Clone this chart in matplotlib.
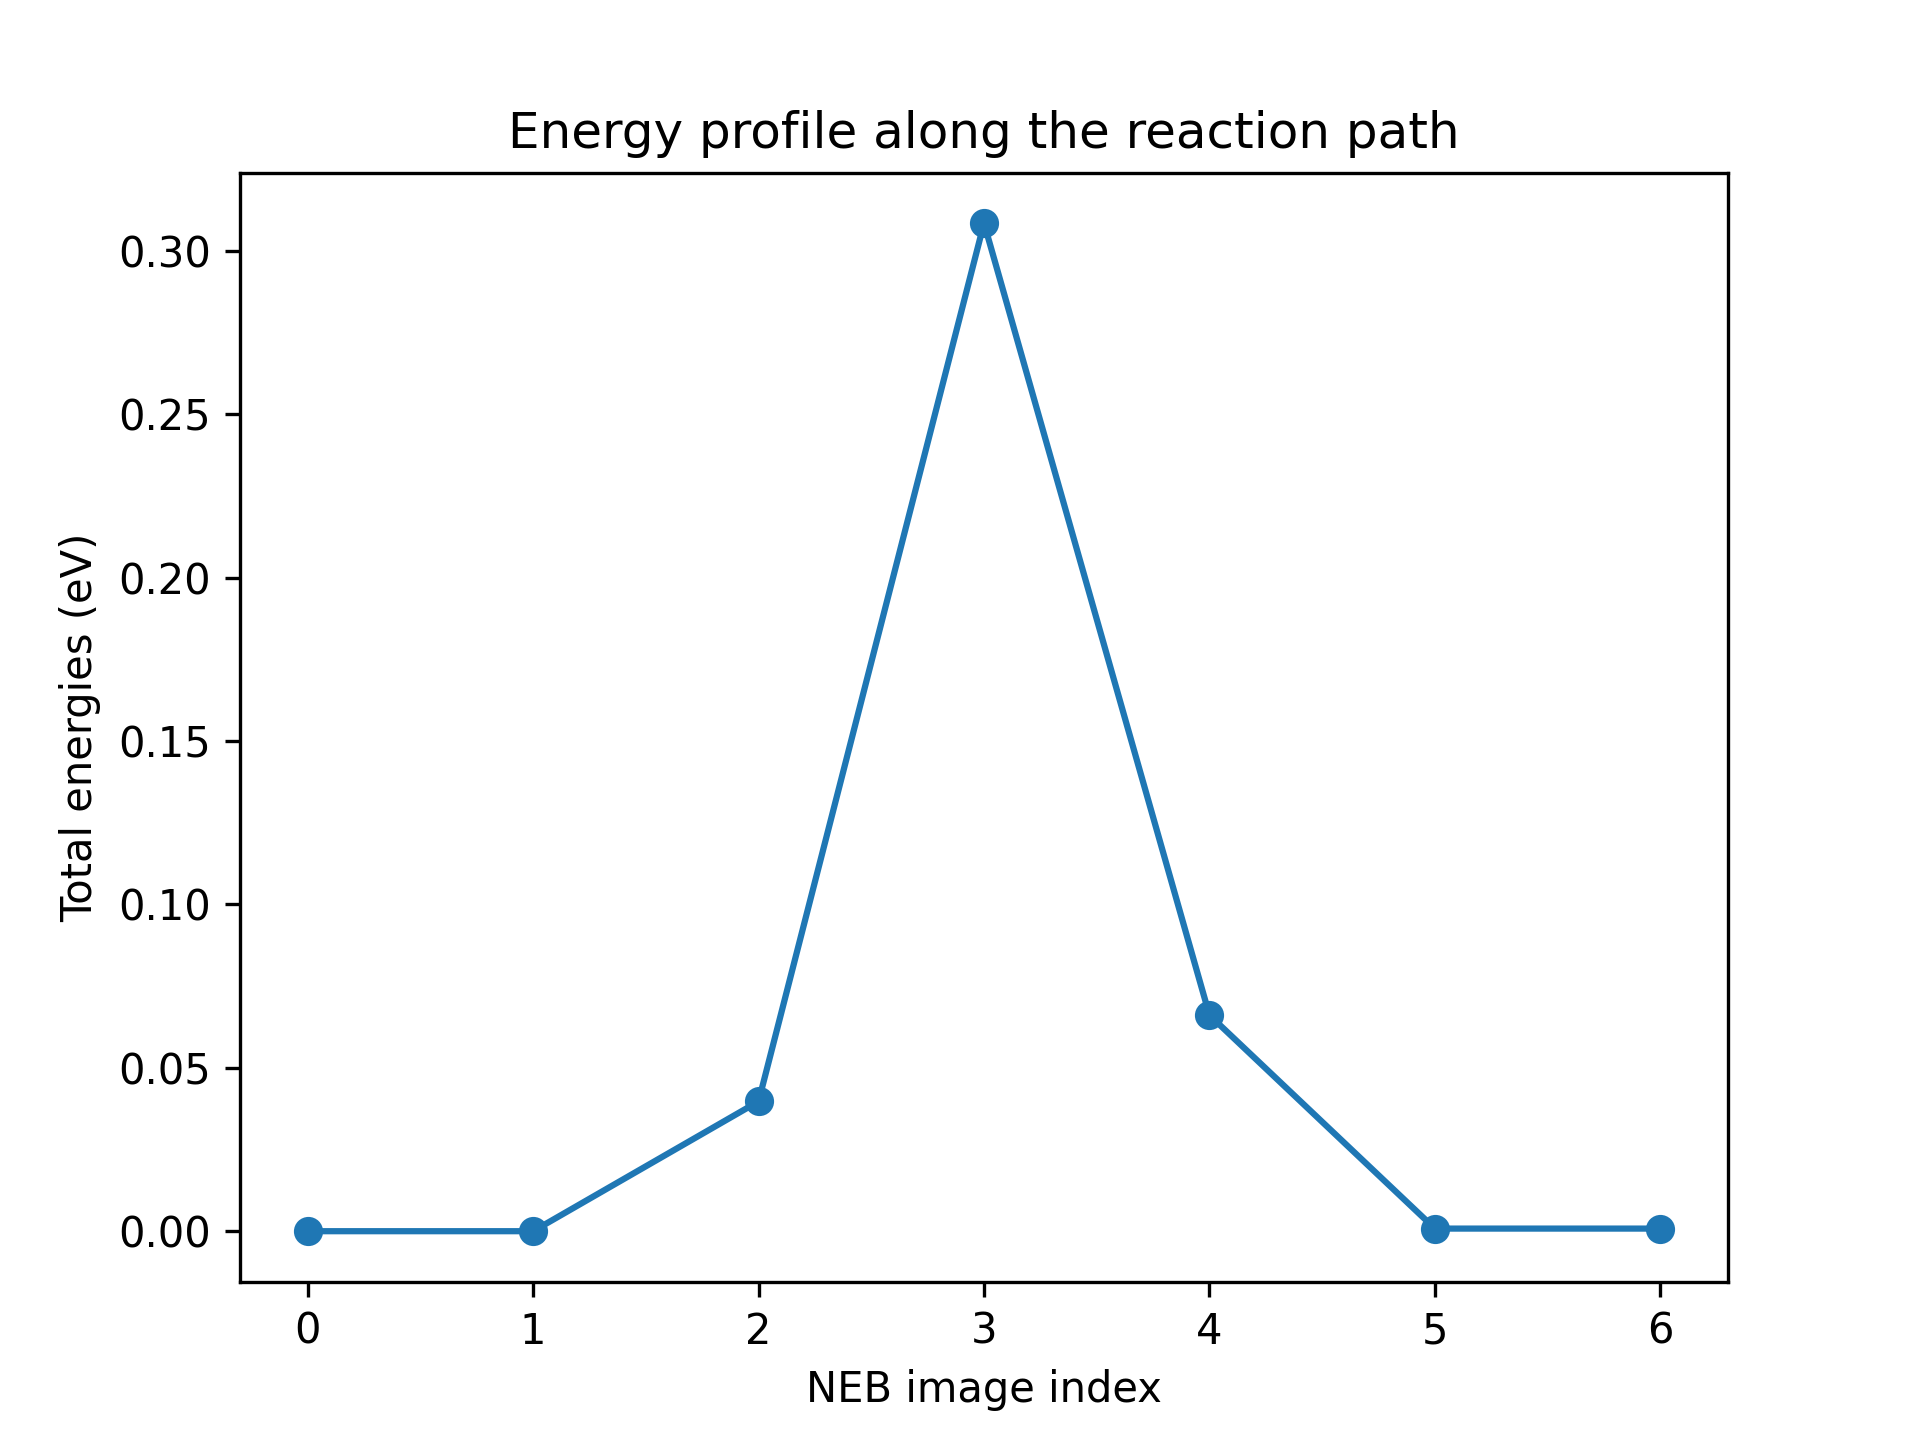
import matplotlib
matplotlib.use("Agg")
import matplotlib.pyplot as plt

image_index = [0, 1, 2, 3, 4, 5, 6]
energies = [0.0, 0.0, 0.0397, 0.3084, 0.0661, 0.0008, 0.0008]

fig, ax = plt.subplots(figsize=(6.4, 4.8), dpi=300)
ax.plot(image_index, energies, marker="o")
ax.set_title("Energy profile along the reaction path")
ax.set_xlabel("NEB image index")
ax.set_ylabel("Total energies (eV)")
fig.savefig("out.png", dpi=300)
